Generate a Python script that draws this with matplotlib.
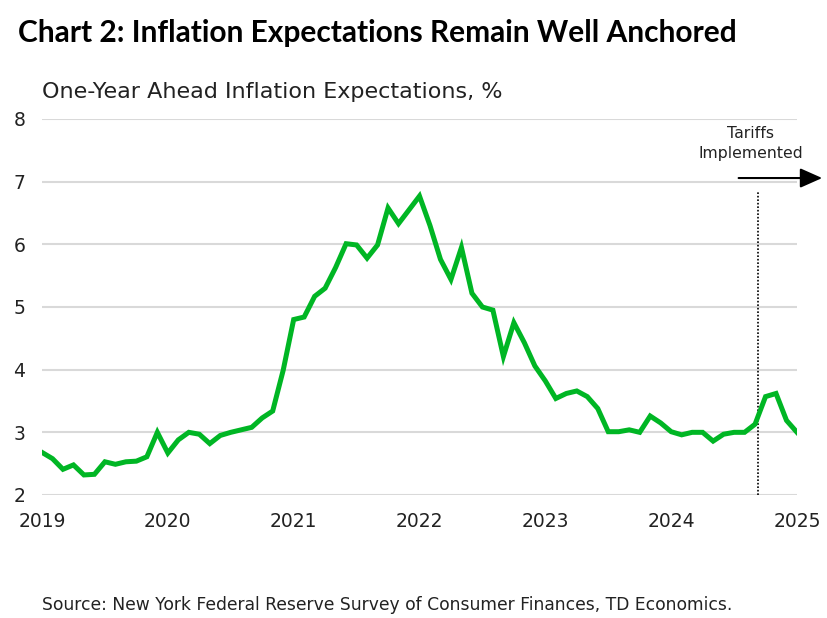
import matplotlib
matplotlib.use('Agg')
import matplotlib.pyplot as plt
import numpy as np

# monthly one-year ahead expectations, Jan 2019 .. Jan 2025
start_year = 2019
expectations = [
    2.68, 2.58, 2.41, 2.48, 2.32, 2.33, 2.53, 2.49, 2.53, 2.54, 2.61, 3.00,   # 2019
    2.67, 2.88, 3.00, 2.97, 2.82, 2.95, 3.00, 3.04, 3.08, 3.23, 3.34, 3.99,   # 2020
    4.80, 4.84, 5.17, 5.30, 5.63, 6.01, 5.99, 5.78, 5.99, 6.58, 6.33, 6.55,   # 2021
    6.77, 6.30, 5.76, 5.44, 5.95, 5.22, 5.00, 4.95, 4.21, 4.75, 4.43, 4.06,   # 2022
    3.82, 3.54, 3.62, 3.66, 3.57, 3.38, 3.01, 3.01, 3.04, 3.00, 3.26, 3.15,   # 2023
    3.01, 2.96, 3.00, 3.00, 2.86, 2.97, 3.00, 3.00, 3.13, 3.57, 3.62, 3.19,   # 2024
    3.00,                                                                     # 2025
]
year_ticks = [2019, 2020, 2021, 2022, 2023, 2024, 2025]
y_ticks = [2, 3, 4, 5, 6, 7, 8]
tariff_date = 2024.69

title = 'Chart 2: Inflation Expectations Remain Well Anchored'
ylabel = 'One-Year Ahead Inflation Expectations, %'
source = 'Source: New York Federal Reserve Survey of Consumer Finances, TD Economics.'

plt.rcParams['font.family'] = ['DejaVu Sans']

fig = plt.figure(figsize=(8.27, 6.18), dpi=100)
ax = fig.add_axes([42/827, 1 - 495/618, (797 - 42)/827, (495 - 119)/618])

x = start_year + np.arange(len(expectations)) / 12.0
ax.plot(x, expectations, color='#00b624', lw=3.6, solid_joinstyle='miter', zorder=3)

ax.set_xlim(year_ticks[0], year_ticks[-1])
ax.set_ylim(y_ticks[0], y_ticks[-1])
ax.set_xticks(year_ticks)
ax.set_yticks(y_ticks)
ax.tick_params(length=0, labelsize=13.5, colors='#222222')
ax.tick_params(axis='y', pad=12)
ax.tick_params(axis='x', pad=12)
ax.grid(axis='y', color='#d9d9d9', lw=1.5)
ax.set_axisbelow(True)
for s in ax.spines.values():
    s.set_visible(False)

# tariff marker
ax.plot([tariff_date, tariff_date], [2, 6.83], color='black', ls=(0, (1, 1.1)), lw=1.2, zorder=2)
ax.annotate('', xy=(1.037, 0.843), xycoords='axes fraction', xytext=(0.919, 0.843),
            arrowprops=dict(arrowstyle='-|>,head_length=1.35,head_width=0.6', color='black', lw=1.5),
            annotation_clip=False)
ax.text(0.939, 0.935, 'Tariffs\nImplemented', transform=ax.transAxes, ha='center', va='center',
        fontsize=11.3, linespacing=1.35, color='#222222')

fig.text(18/827, 1 - 33/618, title, fontsize=21.5, fontweight='bold', family='Lato',
         va='center', ha='left')
fig.text(42/827, 1 - 92/618, ylabel, fontsize=16, va='center', ha='left', color='#222222')
fig.text(42/827, 1 - 605/618, source, fontsize=12.3, va='center', ha='left', color='#222222')

fig.savefig('out.png', dpi=100)
